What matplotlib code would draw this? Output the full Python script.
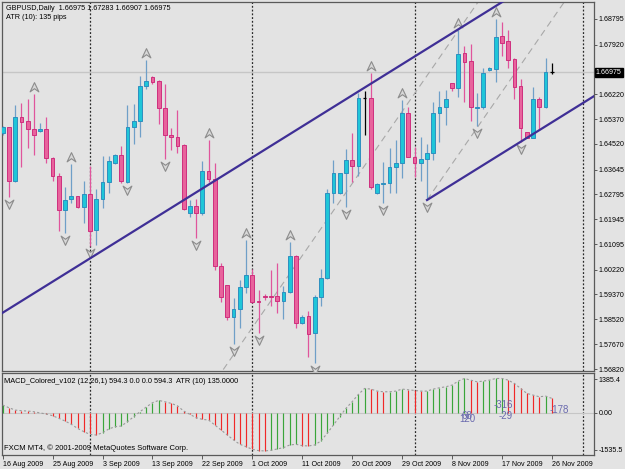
import numpy as np
import matplotlib.pyplot as plt
from matplotlib.path import Path
from matplotlib.transforms import offset_copy, blended_transform_factory

plt.rcParams['font.family'] = ['Liberation Sans', 'DejaVu Sans']

# GBPUSD daily, 16 Aug 2009 .. 26 Nov 2009 (FXCM feed, Sunday bars included)
opens = [1.64883, 1.65089, 1.63264, 1.65454, 1.65305, 1.65032, 1.64952, 1.65032, 1.64028, 1.63424,
         1.62260, 1.62625, 1.62728, 1.62351, 1.62808, 1.61576, 1.62625, 1.63230, 1.63857, 1.64142,
         1.63230, 1.65089, 1.65317, 1.66503, 1.66822, 1.66674, 1.65739, 1.64838, 1.64769, 1.64484,
         1.62169, 1.62408, 1.62169, 1.63595, 1.63309, 1.60344, 1.59694, 1.58611, 1.58862, 1.59637,
         1.60036, 1.59147, 1.59318, 1.59318, 1.59318, 1.59158, 1.59466, 1.60686, 1.58382, 1.58633,
         1.58040, 1.59272, 1.59922, 1.62830, 1.62830, 1.63515, 1.63971, 1.63777, 1.66104, 1.66104,
         1.62830, 1.63150, 1.63173, 1.63731, 1.63880, 1.65590, 1.64085, 1.63880, 1.64017, 1.64199,
         1.65590, 1.65773, 1.66594, 1.66423, 1.67620, 1.67358, 1.65761, 1.65773, 1.67039, 1.67073,
         1.68213, 1.68031, 1.67415, 1.66503, 1.64917, 1.64735, 1.66069, 1.65773, 1.66975]
highs = [1.65134, 1.65111, 1.65853, 1.65910, 1.66058, 1.66229, 1.65248, 1.65431, 1.64085, 1.63515,
         1.63036, 1.63834, 1.62751, 1.63264, 1.63777, 1.62979, 1.64119, 1.64108, 1.64165, 1.64450,
         1.65853, 1.65887, 1.66845, 1.67392, 1.66845, 1.66708, 1.66571, 1.65054, 1.65682, 1.64518,
         1.62602, 1.62625, 1.63937, 1.64655, 1.63857, 1.60435, 1.59694, 1.59238, 1.59865, 1.61234,
         1.60230, 1.59523, 1.59386, 1.60207, 1.60458, 1.59671, 1.61177, 1.60721, 1.58668, 1.58804,
         1.59352, 1.60230, 1.62967, 1.63971, 1.63538, 1.64336, 1.64883, 1.66252, 1.66343, 1.66936,
         1.63173, 1.63914, 1.64393, 1.64655, 1.66024, 1.65773, 1.64404, 1.64769, 1.64518, 1.65967,
         1.66343, 1.66366, 1.66617, 1.68419, 1.67871, 1.67940, 1.66252, 1.67107, 1.67141, 1.68784,
         1.68704, 1.68419, 1.67449, 1.66731, 1.64940, 1.66457, 1.66138, 1.67449, 1.67283]
lows = [1.64826, 1.62716, 1.63230, 1.63720, 1.64370, 1.64153, 1.64929, 1.63857, 1.63264, 1.61542,
        1.61462, 1.62511, 1.62340, 1.61804, 1.61028, 1.61063, 1.62317, 1.62830, 1.63834, 1.63195,
        1.63173, 1.64518, 1.64769, 1.66400, 1.66571, 1.65191, 1.63994, 1.64313, 1.64222, 1.62260,
        1.62032, 1.61291, 1.62089, 1.63230, 1.60207, 1.59124, 1.58497, 1.57675, 1.58211, 1.59409,
        1.59067, 1.58040, 1.59181, 1.58976, 1.58747, 1.58531, 1.59432, 1.58211, 1.58360, 1.57242,
        1.57014, 1.58976, 1.59888, 1.62488, 1.62808, 1.62374, 1.63230, 1.63424, 1.64826, 1.62967,
        1.62808, 1.62511, 1.62830, 1.62830, 1.63344, 1.64062, 1.63401, 1.63264, 1.62602, 1.63971,
        1.64598, 1.65168, 1.66343, 1.66138, 1.65967, 1.65316, 1.65134, 1.65704, 1.67027, 1.66651,
        1.67529, 1.67107, 1.66046, 1.64598, 1.64712, 1.64712, 1.64997, 1.65738, 1.66907]
closes = [1.65089, 1.63264, 1.65454, 1.65283, 1.65020, 1.64838, 1.65032, 1.64028, 1.63424, 1.62260,
          1.62591, 1.62751, 1.62351, 1.62808, 1.61553, 1.62625, 1.63230, 1.63937, 1.64142, 1.63264,
          1.65089, 1.65317, 1.66503, 1.66663, 1.66651, 1.65762, 1.64826, 1.64746, 1.64450, 1.62283,
          1.62408, 1.62169, 1.63595, 1.63309, 1.60344, 1.59295, 1.58611, 1.58862, 1.59637, 1.60036,
          1.59124, 1.59124, 1.59295, 1.59283, 1.59158, 1.59466, 1.60686, 1.58405, 1.58611, 1.58006,
          1.59295, 1.59922, 1.62853, 1.63538, 1.63538, 1.63971, 1.63777, 1.66081, 1.66104, 1.63059,
          1.63150, 1.63184, 1.63731, 1.63880, 1.65590, 1.64085, 1.63880, 1.64017, 1.64199, 1.65590,
          1.65773, 1.66046, 1.66423, 1.67597, 1.67335, 1.65773, 1.65784, 1.66936, 1.67107, 1.68190,
          1.67985, 1.67392, 1.66480, 1.65054, 1.64735, 1.66069, 1.65773, 1.66975, 1.66975]

# MACD_Colored (12,26,1) histogram
macd = [317, 207, 110, 83, 69, 41, -10, -55, -124, -235,
        -345, -483, -650, -787, -900, -925, -830, -676, -580, -552,
        -373, -166, 41, 235, 414, 510, 455, 386, 290, 69,
        -69, -207, -276, -304, -511, -718, -925, -1132, -1311, -1408,
        -1518, -1573, -1587, -1559, -1504, -1449, -1339, -1311, -1366, -1380,
        -1339, -1173, -856, -511, -166, 179, 455, 759, 1007, 980,
        897, 869, 869, 897, 980, 952, 925, 897, 897, 980,
        1035, 1076, 1145, 1311, 1421, 1352, 1283, 1311, 1352, 1421,
        1421, 1352, 1214, 1007, 800, 731, 662, 690, 594.3]

date_labels = ['16 Aug 2009', '25 Aug 2009', '3 Sep 2009', '13 Sep 2009', '22 Sep 2009', '1 Oct 2009',
               '11 Oct 2009', '20 Oct 2009', '29 Oct 2009', '8 Nov 2009', '17 Nov 2009', '26 Nov 2009']
label_bars = [0, 8, 16, 24, 32, 40, 48, 56, 64, 72, 80, 88]
separator_bars = [14, 40, 66, 93]          # month separators
up_fractals = [5, 11, 23, 33, 39, 46, 59, 64, 73, 79]
down_fractals = [1, 10, 14, 20, 26, 31, 37, 41, 50, 55, 61, 68, 76, 83]
price_ticks = [1.68795, 1.67920, 1.66220, 1.65370, 1.64520, 1.63645, 1.62795, 1.61945,
               1.61095, 1.60220, 1.59370, 1.58520, 1.57670, 1.56820]
macd_ticks = [1385.4, 0.0, -1535.5]
macd_tick_labels = ['1385.4', '0.00', '-1535.5']

# object value labels drawn in the MACD window (bar, value, text)
macd_notes = [(78.6, 320, '-316'), (79.4, -137, '-29'), (73.2, -270, '120'),
              (73.6, -130, '68'), (87.6, 110, '-178')]

# trend line anchors (bar, price)
trend_pts = [(0, 1.58746), (70.08, 1.68052)]
fan_pts = [(46.04, 1.60094), (69.55, 1.67334)]
channel_start = 68                           # lower channel line starts at this low

BG = '#e3e3e3'
BULL_BODY, BULL_EDGE, BULL_WICK = '#1fc6d8', '#2e8fc0', '#6f9fc8'
BEAR_BODY, BEAR_EDGE, BEAR_WICK = '#e8639c', '#cf2f7e', '#e0559c'
LINE = '#3f2f96'
FS = 5.1

fig = plt.figure(figsize=(6.25, 4.69), dpi=100, facecolor=BG)
ax = fig.add_axes([2 / 625, 1 - 371 / 469, 592 / 625, 369 / 469], facecolor=BG)
axm = fig.add_axes([2 / 625, 1 - 455 / 469, 592 / 625, 82 / 469], facecolor=BG, sharex=ax)

n = len(closes)
x = np.arange(n)
o, h, l, c = map(np.array, (opens, highs, lows, closes))

# wicks
wick_cols = [BULL_WICK if cc > oo else (BEAR_WICK if cc < oo else 'black') for oo, cc in zip(o, c)]
ax.vlines(x, l, h, colors=wick_cols, lw=0.9, zorder=3)
# bodies
body_w = 0.6
for i in range(n):
    if c[i] == o[i]:
        ax.hlines(c[i], i - body_w / 2, i + body_w / 2, colors='black', lw=0.9, zorder=4)
        continue
    bull = c[i] > o[i]
    ax.bar(i, max(abs(c[i] - o[i]), 0.00008), bottom=min(o[i], c[i]), width=body_w,
           color=BULL_BODY if bull else BEAR_BODY, edgecolor=BULL_EDGE if bull else BEAR_EDGE,
           lw=0.7, zorder=4)

# fractal arrows
up_arrow = Path([(0, 1), (0.9, -0.9), (0, -0.25), (-0.9, -0.9), (0, 1)],
                [Path.MOVETO, Path.LINETO, Path.LINETO, Path.LINETO, Path.CLOSEPOLY])
dn_arrow = Path([(0, -1), (0.9, 0.9), (0, 0.25), (-0.9, 0.9), (0, -1)],
                [Path.MOVETO, Path.LINETO, Path.LINETO, Path.LINETO, Path.CLOSEPOLY])
tr_up = offset_copy(ax.transData, fig=fig, y=7, units='dots')
tr_dn = offset_copy(ax.transData, fig=fig, y=-7, units='dots')
ax.plot(up_fractals, h[up_fractals], ls='none', marker=up_arrow, ms=7, mfc='#d8d8d8',
        mec='#8c8c8c', mew=0.8, transform=tr_up, zorder=5)
ax.plot(down_fractals, l[down_fractals], ls='none', marker=dn_arrow, ms=7, mfc='#d8d8d8',
        mec='#8c8c8c', mew=0.8, transform=tr_dn, zorder=5)

# trend / channel lines
xs = np.array([-2, 100])
(x1, y1), (x2, y2) = trend_pts
slope = (y2 - y1) / (x2 - x1)
ax.plot(xs, y1 + slope * (xs - x1), color=LINE, lw=1.6, zorder=6)
xs2 = np.array([channel_start, 100])
ax.plot(xs2, l[channel_start] + slope * (xs2 - channel_start), color=LINE, lw=1.6, zorder=6)

(f1, g1), (f2, g2) = fan_pts
fslope = (g2 - g1) / (f2 - f1)
xs3 = np.array([20, 100])
ax.plot(xs3, g1 + fslope * (xs3 - f1), color='#a8a8a8', lw=0.8, ls=(0, (6, 4)), zorder=2)
ax.plot(xs2, l[channel_start] + fslope * (xs2 - channel_start), color='#a8a8a8', lw=0.8,
        ls=(0, (6, 4)), zorder=2)

# bid line
ax.axhline(c[-1], color='#c6c6c6', lw=1.0, zorder=1)

# separators
for a in (ax, axm):
    for s in separator_bars:
        a.axvline(s, color='#2a2a2a', lw=0.9, ls=(0, (1.5, 1.5)), zorder=1)

ax.set_xlim(-0.11, 94.76)
ax.set_ylim(1.56752, 1.69376)

# MACD panel
mcol = []
for i, v in enumerate(macd):
    prev = macd[i - 1] if i > 0 else v
    mcol.append('#3aa53a' if v >= prev else '#f02828')
axm.vlines(x, 0, macd, colors=mcol, lw=0.85, zorder=3)
axm.plot(x, macd, color='#9a9a9a', lw=0.8, ls=(0, (2, 2)), zorder=4)
axm.axhline(0, color='#c6c6c6', lw=0.8, zorder=1)
axm.set_ylim(-1755, 1648)

# axes cosmetics
for a in (ax, axm):
    for sp in a.spines.values():
        sp.set_color('#5a5a5a')
        sp.set_linewidth(0.9)
    a.yaxis.tick_right()
    a.tick_params(axis='y', direction='out', length=2.5, width=0.7, pad=1.0,
                  labelsize=FS, colors='#5a5a5a', labelcolor='black')

ax.set_yticks(price_ticks)
ax.set_yticklabels([f'{p:.5f}' for p in price_ticks])
ax.tick_params(axis='x', bottom=False, labelbottom=False)

axm.set_yticks(macd_ticks)
axm.set_yticklabels(macd_tick_labels)
axm.set_xticks(label_bars)
axm.set_xticklabels(date_labels)
axm.tick_params(axis='x', direction='out', length=3, width=0.7, pad=1.5, labelsize=FS,
                colors='#5a5a5a', labelcolor='black')
for t in axm.get_xticklabels():
    t.set_ha('left')

# current price marker
bt = blended_transform_factory(ax.transAxes, ax.transData)
ax.text(1.003, c[-1], f'{c[-1]:.5f}', transform=bt, ha='left', va='center', fontsize=FS,
        color='white', bbox=dict(boxstyle='square,pad=0.15', fc='black', ec='black'),
        zorder=10, clip_on=False)

# texts
ax.text(0.006, 0.993, 'GBPUSD,Daily  1.66975 1.67283 1.66907 1.66975', transform=ax.transAxes,
        ha='left', va='top', fontsize=5.2)
ax.text(0.006, 0.968, 'ATR (10): 135 pips', transform=ax.transAxes, ha='left', va='top', fontsize=5.2)
axm.text(0.004, 0.94, 'MACD_Colored_v102 (12,26,1) 594.3 0.0 0.0 594.3  ATR (10) 135.0000',
         transform=axm.transAxes, ha='left', va='top', fontsize=5.3)
axm.text(0.004, 0.04, 'FXCM MT4, \u00a9 2001-2009 MetaQuotes Software Corp.', transform=axm.transAxes,
         ha='left', va='bottom', fontsize=5.5)

for bar, val, txt in macd_notes:
    axm.text(bar, val, txt, color='#6a6aae', fontsize=7, ha='left', va='center', zorder=6)

fig.savefig('out.png', dpi=100, facecolor=BG)
